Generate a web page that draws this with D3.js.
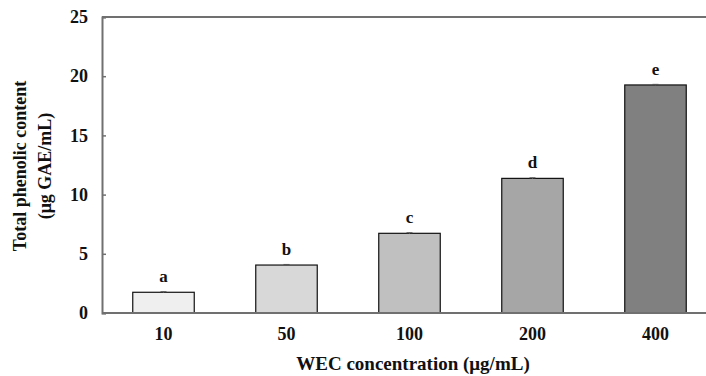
<!DOCTYPE html>
<html><head><meta charset="utf-8">
<script src="https://cdn.jsdelivr.net/npm/d3@7"></script>
<style>body{margin:0;background:#fff}svg{display:block}</style>
</head><body>
<script>
const categories = ["10","50","100","200","400"];
const values = [1.75, 4.05, 6.73, 11.37, 19.26];
const errors = [0.05, 0.05, 0.05, 0.05, 0.05];
const letters = ["a","b","c","d","e"];
const colors = ["#efefef","#d8d8d8","#c0c0c0","#a6a6a6","#808080"];
const yTicks = [0,5,10,15,20,25];

const W=706,H=376;
const m={left:102,top:17,bottom:313,right:717};
const svg=d3.select("body").append("svg").attr("width",W).attr("height",H);
const font="'Liberation Serif','Times New Roman',serif";
const x=d3.scaleBand().domain(categories).range([m.left,m.right]).paddingInner(0.5).paddingOuter(0.25);
const y=d3.scaleLinear().domain([0,25]).range([m.bottom,m.top]);

// bars
svg.selectAll("rect.bar").data(values).join("rect")
 .attr("x",(d,i)=>x(categories[i])).attr("y",d=>y(d))
 .attr("width",x.bandwidth()).attr("height",d=>y(0)-y(d))
 .attr("fill",(d,i)=>colors[i]).attr("stroke","#111").attr("stroke-width",1.2);

// error bars
values.forEach((v,i)=>{
  const cx=x(categories[i])+x.bandwidth()/2;
  svg.append("line").attr("x1",cx).attr("x2",cx).attr("y1",y(v+errors[i])).attr("y2",y(v-errors[i])).attr("stroke","#555");
  svg.append("line").attr("x1",cx-3).attr("x2",cx+3).attr("y1",y(v+errors[i])).attr("y2",y(v+errors[i])).attr("stroke","#555");
});

// letters
svg.selectAll("text.lt").data(values).join("text")
 .attr("x",(d,i)=>x(categories[i])+x.bandwidth()/2).attr("y",d=>y(d)-10)
 .attr("text-anchor","middle").attr("font-family",font).attr("font-weight","bold").attr("font-size",17)
 .attr("fill","#111").text((d,i)=>letters[i]);

// axes
const axisColor="#707070";
svg.append("line").attr("x1",m.left).attr("x2",W).attr("y1",m.top).attr("y2",m.top).attr("stroke",axisColor).attr("stroke-width",2);
const ya=svg.append("g").attr("transform",`translate(${m.left},0)`)
 .call(d3.axisLeft(y).tickValues(yTicks).tickSize(-4).tickPadding(14).tickFormat(d3.format("d")));
ya.select(".domain").attr("stroke",axisColor).attr("stroke-width",2);
ya.selectAll(".tick line").attr("stroke",axisColor).attr("stroke-width",1.5);
ya.selectAll("text").attr("font-family",font).attr("font-weight","bold").attr("font-size",18).attr("fill","#111");

const xa=svg.append("g").attr("transform",`translate(0,${m.bottom})`)
 .call(d3.axisBottom(x).tickSize(0).tickPadding(14));
xa.select(".domain").attr("stroke",axisColor).attr("stroke-width",2).attr("d",`M${m.left},0H${W}`);
xa.selectAll("text").attr("font-family",font).attr("font-weight","bold").attr("font-size",18).attr("fill","#111");

// titles
svg.append("text").attr("x",413).attr("y",370).attr("text-anchor","middle")
 .attr("font-family",font).attr("font-weight","bold").attr("font-size",19).attr("fill","#111")
 .text("WEC concentration (μg/mL)");
const yt=svg.append("text").attr("transform","translate(0,166) rotate(-90)").attr("text-anchor","middle")
 .attr("font-family",font).attr("font-weight","bold").attr("font-size",18).attr("fill","#111");
yt.append("tspan").attr("x",0).attr("y",26).text("Total phenolic content");
yt.append("tspan").attr("x",0).attr("y",51).text("(μg GAE/mL)");
</script>
</body></html>
